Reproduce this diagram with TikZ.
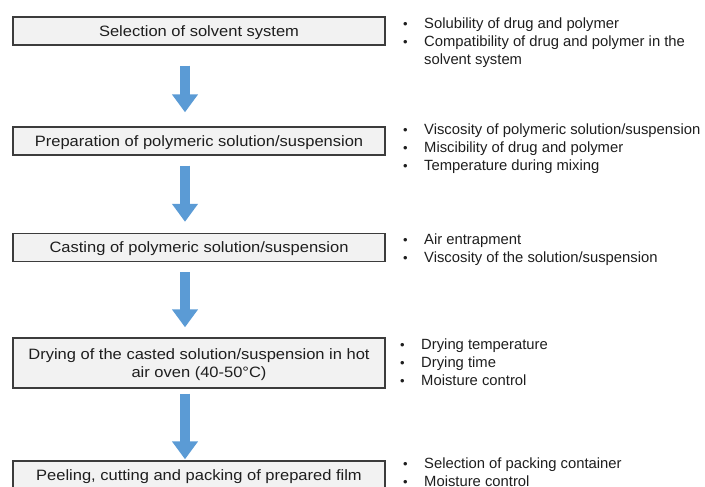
\documentclass[tikz,border=0pt]{standalone}
\usepackage{fontspec}
\setmainfont{Liberation Sans}
\newfontfamily\boxfont{Liberation Sans}[FakeStretch=1.1]
\usetikzlibrary{arrows.meta}
\definecolor{arrowblue}{RGB}{91,155,213}
\definecolor{boxgray}{RGB}{242,242,242}
\definecolor{edgegray}{RGB}{60,60,60}
\definecolor{inkgray}{RGB}{30,30,30}
\newcommand\bul{\makebox[21pt][l]{\raisebox{0.4pt}{\fontsize{13}{13}\selectfont\textbullet}}}
\begin{document}
\begin{tikzpicture}[x=1pt,y=-1pt,
  stepbox/.style={draw=edgegray,line width=1.4pt,fill=boxgray,minimum width=372pt,minimum height=28pt,inner sep=2pt,text depth=0.5pt,align=center,text=inkgray,font=\boxfont\fontsize{15}{18}\selectfont},
  note/.style={anchor=north west,inner sep=0pt,align=left,text=inkgray,font=\fontsize{14.8}{18}\selectfont},
  bigarrow/.style={arrowblue,line width=10pt,-{Triangle[width=25pt,length=18pt]}}]
\useasboundingbox (0,0) rectangle (705,487);
% process steps
\node[stepbox] (s1) at (199,31) {Selection of solvent system};
\node[stepbox] (s2) at (199,141) {Preparation of polymeric solution/suspension};
\node[stepbox] (s3) at (199,247.5) {Casting of polymeric solution/suspension};
\node[stepbox,minimum height=50pt] (s4) at (199,363) {Drying of the casted solution/suspension in hot\\air oven (40-50°C)};
\node[stepbox] (s5) at (199,475) {Peeling, cutting and packing of prepared film};
% arrows between steps
\draw[bigarrow] ([xshift=-14pt,yshift=-20pt]s1.south) -- ([xshift=-14pt,yshift=14pt]s2.north);
\draw[bigarrow] ([xshift=-14pt,yshift=-10pt]s2.south) -- ([xshift=-14pt,yshift=11pt]s3.north);
\draw[bigarrow] ([xshift=-14pt,yshift=-10pt]s3.south) -- ([xshift=-14pt,yshift=10pt]s4.north);
\draw[bigarrow] ([xshift=-14pt,yshift=-5pt]s4.south) -- ([xshift=-14pt,yshift=1pt]s5.north);
% critical parameters
\node[note] (p1) at (403,18) {\bul Solubility of drug and polymer\\\bul Compatibility of drug and polymer in the\\\hspace*{21pt}solvent system};
\node[note] (p2) at (403,124) {\bul Viscosity of polymeric solution/suspension\\\bul Miscibility of drug and polymer\\\bul Temperature during mixing};
\node[note] (p3) at (403,234) {\bul Air entrapment\\\bul Viscosity of the solution/suspension};
\node[note] (p4) at (400,339) {\bul Drying temperature\\\bul Drying time\\\bul Moisture control};
\node[note] (p5) at (403,458) {\bul Selection of packing container\\\bul Moisture control};
\end{tikzpicture}
\end{document}
